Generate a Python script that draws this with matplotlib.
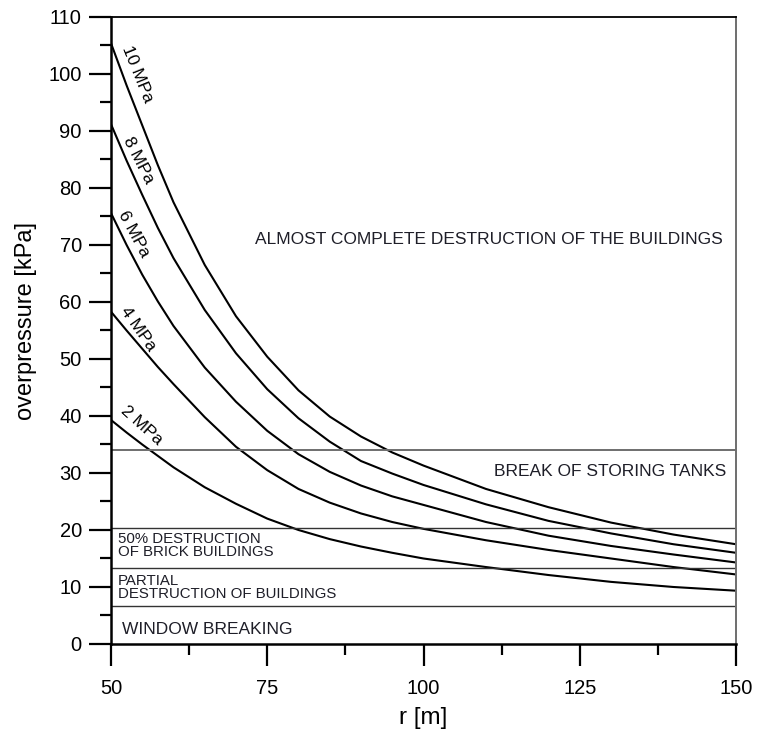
import matplotlib
matplotlib.use("Agg")
import matplotlib.pyplot as plt
from matplotlib import font_manager
from matplotlib.ticker import MultipleLocator

# ---- data ----
r = [50, 52.5, 55, 57.5, 60, 65, 70, 75, 80, 85, 90, 95, 100, 110, 120, 130, 140, 150]
p_10MPa = [105.4, 98.0, 91.0, 84.0, 77.5, 66.5, 57.5, 50.4, 44.5, 39.9, 36.4, 33.6, 31.3, 27.2, 24.0, 21.3, 19.2, 17.5]
p_8MPa = [91.2, 84.8, 78.8, 73.0, 67.7, 58.6, 51.0, 44.7, 39.6, 35.5, 32.1, 29.9, 27.9, 24.5, 21.6, 19.4, 17.5, 16.0]
p_6MPa = [75.6, 70.0, 64.8, 60.1, 55.8, 48.5, 42.5, 37.4, 33.3, 30.2, 27.8, 25.9, 24.4, 21.4, 19.0, 17.2, 15.7, 14.3]
p_4MPa = [58.3, 55.0, 51.8, 48.6, 45.6, 39.8, 34.6, 30.5, 27.2, 24.8, 22.9, 21.4, 20.2, 18.2, 16.5, 15.0, 13.5, 12.2]
p_2MPa = [39.3, 37.1, 35.0, 33.0, 31.0, 27.5, 24.6, 22.0, 20.0, 18.4, 17.1, 16.0, 15.0, 13.5, 12.1, 10.9, 10.0, 9.35]
series = [p_10MPa, p_8MPa, p_6MPa, p_4MPa, p_2MPa]
curve_labels = ["10 MPa", "8 MPa", "6 MPa", "4 MPa", "2 MPa"]

zone_levels = [34.0, 20.4, 13.4, 6.7]
zone_texts = ["ALMOST COMPLETE DESTRUCTION OF THE BUILDINGS",
              "BREAK OF STORING TANKS",
              "50% DESTRUCTION\nOF BRICK BUILDINGS",
              "PARTIAL\nDESTRUCTION OF BUILDINGS",
              "WINDOW BREAKING"]

x_ticks = [50, 75, 100, 125, 150]
y_ticks = list(range(0, 111, 10))

# ---- fonts ----
avail = {f.name for f in font_manager.fontManager.ttflist}
main_font = "Liberation Sans" if "Liberation Sans" in avail else "DejaVu Sans"
narrow_font = "Liberation Sans Narrow" if "Liberation Sans Narrow" in avail else main_font
plt.rcParams["font.family"] = [main_font, "DejaVu Sans"]

txt_color = "#1e1e28"

fig = plt.figure(figsize=(7.57, 7.29), dpi=100)
ax = fig.add_axes([0.1466, 0.1166, 0.8257, 0.8601])

for vals in series:
    ax.plot(r, vals, color="black", lw=1.5, solid_joinstyle="round")

line_colors = ["#6e6e6e", "#333333", "#333333", "#333333"]
line_widths = [1.4, 1.0, 1.0, 1.0]
for lvl, c, lw in zip(zone_levels, line_colors, line_widths):
    ax.axhline(lvl, color=c, lw=lw)

ax.set_xlim(50, 150)
ax.set_ylim(0, 110)
ax.set_xticks(x_ticks)
ax.set_yticks(y_ticks)
ax.xaxis.set_minor_locator(MultipleLocator(12.5))
ax.yaxis.set_minor_locator(MultipleLocator(5))
ax.tick_params(which="major", direction="out", length=16, width=1.6,
               labelsize=14.5, colors="black")
ax.tick_params(axis="y", which="major", pad=5)
ax.tick_params(axis="x", which="major", pad=9)
ax.tick_params(which="minor", direction="out", length=8, width=1.6)

for side in ["left", "bottom"]:
    ax.spines[side].set_linewidth(1.8)
    ax.spines[side].set_color("black")
ax.spines["top"].set_linewidth(1.3)
ax.spines["top"].set_color("black")
ax.spines["right"].set_linewidth(1.4)
ax.spines["right"].set_color("#6e6e6e")

ax.set_xlabel("r [m]", fontsize=17.5, labelpad=7)
ax.set_ylabel("overpressure [kPa]", fontsize=17, labelpad=3)
ax.yaxis.set_label_coords(-0.118, 0.515)

# zone texts
ax.text(147.9, 70.9, zone_texts[0], ha="right", va="center", fontsize=12.5, color=txt_color)
ax.text(148.4, 30.2, zone_texts[1], ha="right", va="center", fontsize=12.5, color=txt_color)
ax.text(51.1, 17.3, zone_texts[2], ha="left", va="center", fontsize=10.8,
        family=[narrow_font, "DejaVu Sans"], color=txt_color, linespacing=0.92)
ax.text(51.1, 9.9, zone_texts[3], ha="left", va="center", fontsize=10.8,
        family=[narrow_font, "DejaVu Sans"], color=txt_color, linespacing=0.92)
ax.text(51.7, 2.6, zone_texts[4], ha="left", va="center", fontsize=12.5, color=txt_color)

# curve labels (rotated along curves)
label_pos = [(54.2, 100.0, -68), (54.4, 84.8, -63), (53.6, 72.0, -62), (54.3, 55.3, -55), (54.9, 38.3, -42)]
for lab, (lx, ly, rot) in zip(curve_labels, label_pos):
    ax.text(lx, ly, lab, rotation=rot, rotation_mode="anchor", ha="center", va="center",
            fontsize=12.5, color="black")

fig.savefig("out.png", dpi=100)
